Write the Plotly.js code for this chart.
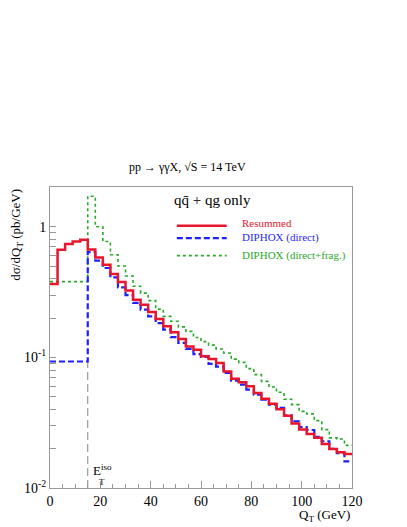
<!DOCTYPE html>
<html>
<head>
<meta charset="utf-8">
<script src="https://cdn.plot.ly/plotly-3.0.1.min.js"></script>
<style>
  html, body { margin: 0; padding: 0; background: #fff; }
  #qtfig { width: 407px; height: 527px; }
</style>
</head>
<body>
<div id="qtfig"></div>
<script>
// bin edges in Q_T (GeV), 3 GeV bins
var qtEdges = [0, 3, 6, 9, 12, 15, 18, 21, 24, 27, 30, 33, 36, 39, 42, 45, 48, 51, 54, 57,
  60, 63, 66, 69, 72, 75, 78, 81, 84, 87, 90, 93, 96, 99, 102, 105, 108, 111, 114, 117, 120];

// dsigma/dQ_T per bin (pb/GeV)
var resummed = [0.365, 0.667, 0.738, 0.772, 0.795, 0.67, 0.582, 0.512, 0.434, 0.377,
  0.325, 0.276, 0.253, 0.222, 0.197, 0.173, 0.156, 0.138, 0.121, 0.1145,
  0.102, 0.097, 0.0906, 0.078, 0.0687, 0.0644, 0.060, 0.0533, 0.0483, 0.0442,
  0.040, 0.0358, 0.0311, 0.028, 0.0259, 0.0242, 0.0217, 0.0199, 0.0188, 0.0182];

var diphoxDirect = [0.093, 0.093, 0.093, 0.093, 0.093, 0.64, 0.55, 0.483, 0.41, 0.343,
  0.30, 0.261, 0.232, 0.206, 0.183, 0.163, 0.143, 0.129, 0.116, 0.106,
  0.1007, 0.089, 0.085, 0.076, 0.0664, 0.0618, 0.0566, 0.0518, 0.0475, 0.0435,
  0.041, 0.036, 0.0324, 0.0293, 0.0278, 0.0246, 0.0228, 0.0199, 0.0185, 0.016];

var diphoxFrag = [0.38, 0.38, 0.38, 0.38, 0.38, 1.71, 1.0, 0.77, 0.61, 0.50,
  0.42, 0.35, 0.31, 0.272, 0.234, 0.206, 0.189, 0.171, 0.158, 0.142,
  0.132, 0.124, 0.116, 0.108, 0.097, 0.0916, 0.082, 0.0738, 0.0655, 0.0593,
  0.054, 0.0478, 0.0435, 0.0386, 0.0369, 0.0328, 0.028, 0.0242, 0.0237, 0.0212];

// E_T^iso cut marker
var isoX = [15, 15];
var isoY = [0.01, 0.093];

var yTickVals = [0.01, 0.02, 0.03, 0.04, 0.05, 0.06, 0.07, 0.08, 0.09,
  0.1, 0.2, 0.3, 0.4, 0.5, 0.6, 0.7, 0.8, 0.9, 1, 2];
var yTickText = ['10<sup>-2</sup>', '', '', '', '', '', '', '', '',
  '10<sup>-1</sup>', '', '', '', '', '', '', '', '', '1', ''];

var RED = '#e8162c', BLUE = '#1f1fff', GREEN = '#28a828';
var SERIF = '"Liberation Serif", "Times New Roman", serif';

function closeStep(v) { return v.concat([v[v.length - 1]]); }

var trIso = {
  x: isoX, y: isoY, mode: 'lines', type: 'scatter',
  line: {color: '#888', width: 1, dash: '8px,4px'},
  showlegend: false, hoverinfo: 'none'
};
var trFrag = {
  x: qtEdges, y: closeStep(diphoxFrag), mode: 'lines', type: 'scatter',
  line: {shape: 'hv', color: GREEN, width: 1.6, dash: 'dot'},
  name: 'DIPHOX (direct+frag.)', showlegend: false
};
var trDirect = {
  x: qtEdges, y: closeStep(diphoxDirect), mode: 'lines', type: 'scatter',
  line: {shape: 'hv', color: BLUE, width: 2.2, dash: '6px,3px'},
  name: 'DIPHOX (direct)', showlegend: false
};
var trRes = {
  x: qtEdges, y: closeStep(resummed), mode: 'lines', type: 'scatter',
  line: {shape: 'hv', color: RED, width: 2.5},
  name: 'Resummed', showlegend: false
};

var data = [trIso, trFrag, trDirect, trRes];

function note(x, y, text, size, extra) {
  var a = {xref: 'paper', yref: 'paper', x: x, y: y, xanchor: 'center', yanchor: 'middle',
    showarrow: false, text: text, font: {family: SERIF, size: size, color: '#000'}};
  for (var k in extra) a[k] = extra[k];
  return a;
}

var layout = {
  width: 407, height: 527,
  margin: {l: 50, r: 55, t: 187, b: 39},
  paper_bgcolor: '#fff', plot_bgcolor: '#fff',
  font: {family: SERIF, size: 14, color: '#000'},
  showlegend: false,
  xaxis: {
    range: [0, 120], dtick: 20, tick0: 0,
    ticks: 'inside', ticklen: 7, tickcolor: '#999', tickwidth: 1,
    minor: {dtick: 5, ticks: 'inside', ticklen: 4, tickcolor: '#999'},
    showline: true, linecolor: '#999', linewidth: 1, mirror: true,
    showgrid: false, zeroline: false,
    tickfont: {family: SERIF, size: 14, color: '#000'}
  },
  yaxis: {
    type: 'log', range: [-2, 0.304],
    tickmode: 'array', tickvals: yTickVals, ticktext: yTickText,
    ticks: 'inside', ticklen: 6, tickcolor: '#999', tickwidth: 1,
    showline: true, linecolor: '#999', linewidth: 1, mirror: true,
    showgrid: false, zeroline: false,
    tickfont: {family: SERIF, size: 14, color: '#000'}
  },
  shapes: [
    {type: 'line', xref: 'paper', yref: 'paper', x0: 0.42, x1: 0.585, y0: 0.871, y1: 0.871,
     line: {color: RED, width: 2.5}},
    {type: 'line', xref: 'paper', yref: 'paper', x0: 0.42, x1: 0.585, y0: 0.830, y1: 0.830,
     line: {color: BLUE, width: 2.2, dash: '6px,3px'}},
    {type: 'line', xref: 'paper', yref: 'paper', x0: 0.42, x1: 0.585, y0: 0.772, y1: 0.772,
     line: {color: GREEN, width: 1.6, dash: 'dot'}}
  ],
  annotations: [
    note(0.454, 1.067, 'pp \u2192 \u03b3\u03b3X, \u221aS = 14 TeV', 12),
    note(0.539, 0.958, 'qq\u0304 + qg only', 15),
    note(0.628, 0.879, 'Resummed', 11, {xanchor: 'left', font: {family: SERIF, size: 11, color: RED}}),
    note(0.628, 0.831, 'DIPHOX (direct)', 11, {xanchor: 'left', font: {family: SERIF, size: 11, color: BLUE}}),
    note(0.628, 0.772, 'DIPHOX (direct+frag.)', 11, {xanchor: 'left', font: {family: SERIF, size: 11, color: GREEN}}),
    note(-0.11, 0.841, 'd\u03c3/dQ<sub>T</sub> (pb/GeV)', 13, {textangle: -90}),
    note(1, -0.092, 'Q<sub>T</sub> (GeV)', 13, {xanchor: 'right'}),
    note(16.2, 0.06, 'E<sup>iso</sup>', 13, {xref: 'x', xanchor: 'left'}),
    note(18.5, 0.02, 'T', 9, {xref: 'x', xanchor: 'left'})
  ]
};

Plotly.newPlot('qtfig', data, layout, {displayModeBar: false, staticPlot: true});
</script>
</body>
</html>
